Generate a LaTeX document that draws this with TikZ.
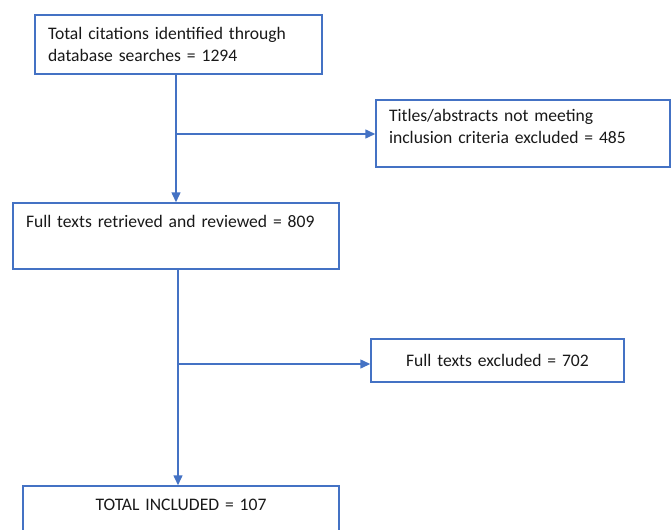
\documentclass[tikz,border=0pt]{standalone}
\usepackage{fontspec}
\setmainfont{Carlito}
\usetikzlibrary{arrows.meta}
\definecolor{wblue}{HTML}{4472C4}
\tikzset{
  x=1pt,y=-1pt,
  box/.style={draw=wblue,line width=1.5pt,rectangle,inner xsep=13pt,inner ysep=0pt,
    font=\fontsize{17.6}{22}\selectfont,text=black!90},
  arr/.style={draw=wblue,line width=1.5pt,-{Triangle[length=10pt,width=9pt]}},
  ln/.style={draw=wblue,line width=1.5pt}
}
\begin{document}
\begin{tikzpicture}
\useasboundingbox (0,0) rectangle (672,530);
\node[box,minimum width=287pt,minimum height=59pt,text width=261pt,align=left] (b1) at (178.5,44.5)
  {Total citations identified through\\database searches = 1294};
\node[box,minimum width=294pt,minimum height=67pt,text width=268pt,align=left] (b2) at (523,133.5)
  {Titles/abstracts not meeting\\inclusion criteria excluded = 485\rule[-15pt]{0pt}{0pt}};
\node[box,minimum width=326pt,minimum height=66pt,text width=300pt,align=left] (b3) at (176,236)
  {Full texts retrieved and reviewed = 809\\\strut};
\node[box,minimum width=253pt,minimum height=43pt,text width=227pt,align=center] (b4) at (497.5,360.5)
  {Full texts excluded = 702};
\node[box,minimum width=316pt,minimum height=66pt,text width=290pt,align=center] (b5) at (181,519)
  {TOTAL INCLUDED = 107\\\strut};
\coordinate (j1) at (176,134);
\coordinate (j2) at (178,364);
\draw[arr] (b1.south -| j1) -- (b3.north -| j1);
\draw[arr] (j1) -- (j1 -| b2.west);
\draw[arr] (b3.south -| j2) -- (b5.north -| j2);
\draw[arr] (j2) -- (j2 -| b4.west);
\end{tikzpicture}
\end{document}
